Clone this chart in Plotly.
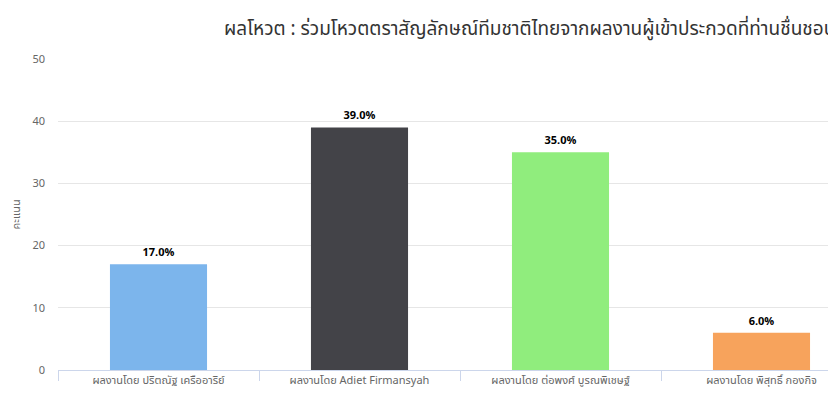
import plotly.graph_objects as go

categories = ["ผลงานโดย ปริตณัฐ เครืออาริย์", "ผลงานโดย Adiet Firmansyah",
              "ผลงานโดย ต่อพงศ์ บูรณพิเชษฐ์", "ผลงานโดย พิสุทธิ์ กองกิจ"]
values = [17, 39, 35, 6]
labels = ["17.0%", "39.0%", "35.0%", "6.0%"]
colors = ["#7cb5ec", "#434348", "#90ed7d", "#f7a35c"]
y_ticks = [0, 10, 20, 30, 40, 50]
title_text = "ผลโหวต : ร่วมโหวตตราสัญลักษณ์ทีมชาติไทยจากผลงานผู้เข้าประกวดที่ท่านชื่นชอบ"
y_title = "คะแนน"

FONT = "Tahoma, 'Noto Sans Thai', 'Noto Sans', sans-serif"

fig = go.Figure()
fig.add_trace(go.Bar(
    x=categories, y=values, marker_color=colors, marker_line_width=0,
    width=0.483, text=labels, textposition="outside", cliponaxis=False,
    textfont=dict(family=FONT, size=11, color="#000000", weight="bold"),
    hoverinfo="skip",
))

# the page body has an 8px margin, so the figure is shifted by 8px
W, H = 828, 395
L, R, T, B = 50, 0, 51, 33
cat_px = 201.0
span = (W - L - R) / cat_px

fig.update_layout(
    width=W, height=H, margin=dict(l=L, r=R, t=T, b=B),
    paper_bgcolor="white", plot_bgcolor="white",
    showlegend=False, bargap=0.517,
    font=dict(family=FONT, color="#666666", size=11),
    xaxis=dict(
        type="category", range=[-0.5, -0.5 + span], fixedrange=True,
        showline=True, linecolor="#ccd6eb", linewidth=1,
        ticks="outside", tickson="boundaries", ticklen=10, tickcolor="#ccd6eb",
        showgrid=False, tickfont=dict(size=11, color="#666666"),
    ),
    yaxis=dict(
        range=[0, 50], tickvals=y_ticks, showgrid=True, gridcolor="#e6e6e6",
        zeroline=False, showline=False, ticks="",
        tickfont=dict(size=11, color="#666666"), ticklabelstandoff=12,
        fixedrange=True,
    ),
    annotations=[
        dict(text=title_text, xref="paper", yref="paper", x=(214 - L) / (W - L - R),
             y=1 + (T - 21) / (H - T - B), xanchor="left", yanchor="middle",
             showarrow=False, font=dict(size=19, color="#333333", family=FONT)),
        dict(text=y_title, xref="paper", yref="paper", x=-(L - 8) / (W - L - R),
             y=0.5, xanchor="center", yanchor="middle", textangle=-90,
             showarrow=False, font=dict(size=11, color="#666666", family=FONT)),
    ],
)

fig.write_html("out.html")
